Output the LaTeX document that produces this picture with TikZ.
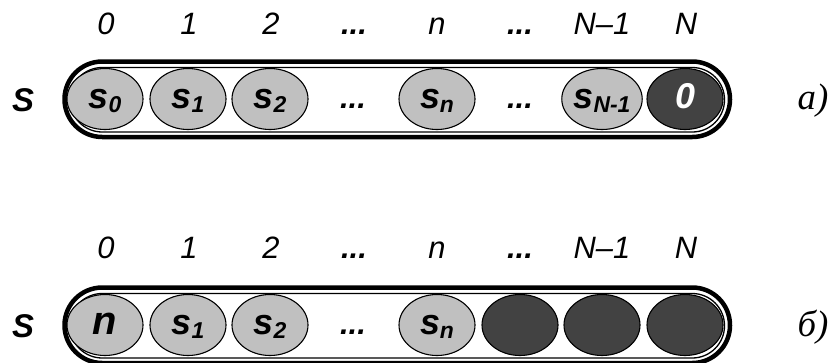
\documentclass[tikz,border=0pt]{standalone}
\usepackage{fontspec}
\setmainfont{Liberation Serif}
\setsansfont{Liberation Sans}
\usetikzlibrary{shapes.geometric}

\definecolor{cellgray}{HTML}{C0C0C0}
\definecolor{celldark}{HTML}{424242}

% lowered index inside a cell
\newcommand{\cellsub}[1]{\raisebox{-4bp}{\fontsize{23}{23}\selectfont #1}}

\begin{document}
\begin{tikzpicture}[x=1bp, y=-1bp,
		cell/.style={ellipse, draw, line width=1.1bp, fill=cellgray,
			minimum width=76bp, minimum height=61bp, inner sep=0pt,
			text height=18bp, text depth=0bp,
			font=\fontsize{36}{36}\selectfont\sffamily\bfseries\itshape},
		fullcell/.style={cell, fill=celldark, text=white},
		idx/.style={anchor=base, font=\fontsize{31}{32}\selectfont\sffamily\itshape},
		idxdots/.style={idx, font=\fontsize{31}{32}\selectfont\sffamily\bfseries\itshape},
		celldots/.style={anchor=base, font=\fontsize{31}{32}\selectfont\sffamily\bfseries\itshape},
		rowname/.style={font=\fontsize{33}{33}\selectfont\sffamily\bfseries\itshape},
		tag/.style={font=\fontsize{37}{37}\selectfont\itshape},
		outerframe/.style={line width=4.5bp},
		innerframe/.style={line width=1.3bp}]
	\useasboundingbox (0,0) rectangle (832,362);

	% row a
	\node[idx] (ia0) at (106,34) {0};
	\node[idx] (ia1) at (189,34) {1};
	\node[idx] (ia2) at (271,34) {2};
	\node[idxdots] (ia3) at (354,34) {...};
	\node[idx] (ia4) at (437,34) {n};
	\node[idxdots] (ia5) at (520,34) {...};
	\node[idx] (ia6) at (602,34) {N–1};
	\node[idx] (ia7) at (686,34) {N};

	\node[rowname] (Sa) at (23,100) {S};
	\draw[outerframe, rounded corners=37.75bp] (64.5,61.5) rectangle (730,137);
	\draw[innerframe, rounded corners=32.25bp] (70,67.5) rectangle (724.5,132);

	\node[cell] (a0) at (105,99) {s\cellsub{0}};
	\node[cell] (a1) at (188,99) {s\cellsub{1}};
	\node[cell] (a2) at (270,99) {s\cellsub{2}};
	\node[celldots] (a3) at (353,108) {...};
	\node[cell] (a4) at (437,99) {s\cellsub{n}};
	\node[celldots] (a5) at (520,108) {...};
	\node[cell] (a6) at (602,99) {s\cellsub{N-1}};
	\node[fullcell] (a7) at (685,99) {0};

	\node[tag] (taga) at (813,101) {а)};

	% row b
	\node[idx] (ib0) at (106,258) {0};
	\node[idx] (ib1) at (189,258) {1};
	\node[idx] (ib2) at (271,258) {2};
	\node[idxdots] (ib3) at (354,258) {...};
	\node[idx] (ib4) at (437,258) {n};
	\node[idxdots] (ib5) at (520,258) {...};
	\node[idx] (ib6) at (602,258) {N–1};
	\node[idx] (ib7) at (686,258) {N};

	\node[rowname] (Sb) at (23,326) {S};
	\draw[outerframe, rounded corners=37.75bp] (64.5,287.5) rectangle (730,363);
	\draw[innerframe, rounded corners=32.25bp] (70,293.5) rectangle (724.5,358);

	\node[cell, font=\fontsize{40}{40}\selectfont\sffamily\bfseries\itshape] (b0) at (105,325) {n};
	\node[cell] (b1) at (188,325) {s\cellsub{1}};
	\node[cell] (b2) at (270,325) {s\cellsub{2}};
	\node[celldots] (b3) at (353,334) {...};
	\node[cell] (b4) at (437,325) {s\cellsub{n}};
	\node[fullcell] (b5) at (520,325) {};
	\node[fullcell] (b6) at (602,325) {};
	\node[fullcell] (b7) at (685,325) {};

	\node[tag] (tagb) at (813,327) {б)};
\end{tikzpicture}
\end{document}
